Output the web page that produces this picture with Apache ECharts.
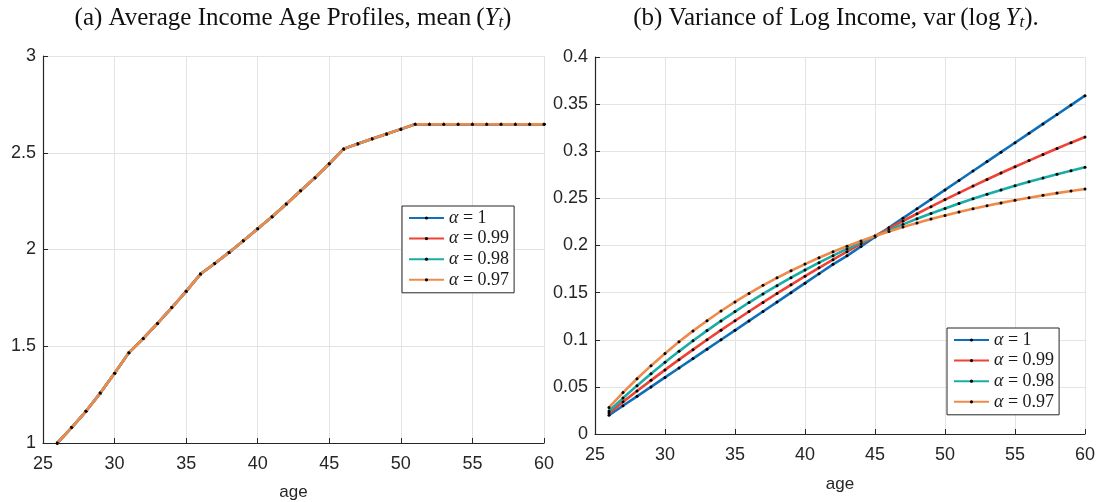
<!DOCTYPE html>
<html><head><meta charset="utf-8">
<script src="https://cdn.jsdelivr.net/npm/echarts@6/dist/echarts.min.js"></script>
<style>html,body{margin:0;padding:0;background:#fff}#c{width:1096px;height:502px}</style>
</head><body><div id="c"></div>
<script>
const ages = [26,27,28,29,30,31,32,33,34,35,36,37,38,39,40,41,42,43,44,45,46,47,48,49,50,51,52,53,54,55,56,57,58,59,60];
const meanIncome = [1.000,1.080,1.164,1.258,1.360,1.467,1.540,1.618,1.700,1.784,1.873,1.928,1.985,2.045,2.107,2.169,2.235,2.304,2.371,2.443,2.520,2.546,2.572,2.597,2.622,2.647,2.647,2.647,2.647,2.647,2.647,2.647,2.647,2.647,2.647];
const varA100 = [0.020,0.030,0.040,0.050,0.060,0.070,0.080,0.090,0.100,0.110,0.120,0.130,0.140,0.150,0.160,0.170,0.180,0.189,0.199,0.209,0.219,0.229,0.239,0.249,0.259,0.269,0.279,0.289,0.299,0.309,0.319,0.329,0.339,0.349,0.359];
const varA099 = [0.0223,0.0341,0.0456,0.0569,0.0680,0.0789,0.0895,0.1000,0.1102,0.1202,0.1300,0.1396,0.1491,0.1583,0.1674,0.1763,0.1850,0.1935,0.2019,0.2101,0.2181,0.2260,0.2337,0.2412,0.2487,0.2559,0.2630,0.2700,0.2769,0.2836,0.2901,0.2966,0.3029,0.3091,0.3151];
const varA098 = [0.0244,0.0381,0.0513,0.0639,0.0761,0.0877,0.0989,0.1097,0.1200,0.1299,0.1395,0.1486,0.1574,0.1659,0.1740,0.1818,0.1892,0.1964,0.2033,0.2099,0.2163,0.2224,0.2283,0.2339,0.2393,0.2445,0.2495,0.2543,0.2589,0.2634,0.2676,0.2717,0.2756,0.2794,0.2830];
const varA097 = [0.0282,0.0439,0.0586,0.0725,0.0855,0.0978,0.1094,0.1202,0.1305,0.1401,0.1492,0.1577,0.1657,0.1732,0.1803,0.1870,0.1933,0.1992,0.2048,0.2100,0.2149,0.2196,0.2239,0.2280,0.2319,0.2355,0.2389,0.2422,0.2452,0.2480,0.2507,0.2532,0.2556,0.2578,0.2599];
const seriesNames = ['α = 1','α = 0.99','α = 0.98','α = 0.97'];
const alphaLabels = ['1','0.99','0.98','0.97'];
const colors = ['#0F6FB8','#EE4234','#1AADA6','#F08A4A'];

const sans = 'Liberation Sans, Arial, sans-serif';
const serif = 'Liberation Serif, DejaVu Serif, serif';
const pair = arr => ages.map((a,i)=>[a,arr[i]]);
const leftData = [meanIncome, meanIncome, meanIncome, meanIncome];
const rightData = [varA100, varA099, varA098, varA097];

function xAxis(gi){
  return {type:'value', gridIndex:gi, min:25, max:60, interval:5,
    name:'age', nameLocation:'middle', nameGap:gi===0?41:42,
    nameTextStyle:{fontFamily:sans, fontSize:17, color:'#262626'},
    axisLine:{show:true, lineStyle:{color:'#262626', width:1.2}},
    axisTick:{show:true, inside:true, length:5, lineStyle:{color:'#262626'}},
    axisLabel:{fontFamily:sans, fontSize:18, color:'#262626', margin:12},
    splitLine:{show:true, lineStyle:{color:'#e3e3e3', width:1}}};
}
function yAxis(gi, mn, mx, iv){
  return {type:'value', gridIndex:gi, min:mn, max:mx, interval:iv,
    axisLine:{show:true, onZero:false, lineStyle:{color:'#262626', width:1.2}},
    axisTick:{show:true, inside:true, length:5, lineStyle:{color:'#262626'}},
    axisLabel:{fontFamily:sans, fontSize:18, color:'#262626', margin:7},
    splitLine:{show:true, lineStyle:{color:'#e3e3e3', width:1}}};
}
const series = [];
seriesNames.forEach((n,i)=>{
  series.push({name:n, type:'line', xAxisIndex:0, yAxisIndex:0, data:pair(leftData[i]),
    symbol:'circle', symbolSize:3, showSymbol:true, itemStyle:{color:'#000'},
    lineStyle:{color:colors[i], width:2.6}, animation:false, z:2+i});
  series.push({name:n, type:'line', xAxisIndex:1, yAxisIndex:1, data:pair(rightData[i]),
    symbol:'circle', symbolSize:3, showSymbol:true, itemStyle:{color:'#000'},
    lineStyle:{color:colors[i], width:2.6}, animation:false, z:2+i});
});
const legendCommon = {orient:'vertical', data:seriesNames, itemWidth:35, itemHeight:4, itemGap:2.6,
  backgroundColor:'#fff', borderColor:'#262626', borderWidth:1, borderRadius:0,
  selectedMode:false,
  formatter: name => '{a|α}{b| = ' + alphaLabels[seriesNames.indexOf(name)] + '}',
  textStyle:{fontFamily:serif, fontSize:18, color:'#1a1a1a', lineHeight:18,
    rich:{a:{fontFamily:serif, fontStyle:'italic', fontSize:18, color:'#1a1a1a', lineHeight:18},
          b:{fontFamily:serif, fontSize:18, color:'#1a1a1a', lineHeight:18}}}};

const titleStyle = {fontFamily:serif, fontSize:25, fontWeight:'normal', color:'#111',
  rich:{y:{fontFamily:serif, fontStyle:'italic', fontSize:25, color:'#111'},
        s:{fontFamily:serif, fontStyle:'italic', fontSize:17, color:'#111', verticalAlign:'bottom', padding:[9,0,0,0]}}};

const chart = echarts.init(document.getElementById('c'), null, {renderer:'canvas'});
chart.setOption({
  animation:false,
  backgroundColor:'#fff',
  title:[
    {text:'(a) Average Income Age Profiles, mean\u2009({y|Y}{s|t})', left:288, top:0, textAlign:'center', textStyle:titleStyle},
    {text:'(b) Variance of Log Income, var\u2009(log\u2009{y|Y}{s|t}).', left:831, top:0, textAlign:'center', textStyle:titleStyle}
  ],
  grid:[
    {left:43, right:1096-544, top:56, bottom:502-443, containLabel:false, outerBoundsMode:'none'},
    {left:595, right:1096-1085, top:57, bottom:502-434, containLabel:false, outerBoundsMode:'none'}
  ],
  xAxis:[xAxis(0), xAxis(1)],
  yAxis:[yAxis(0,1,3,0.5), yAxis(1,0,0.4,0.05)],
  legend:[
    Object.assign({}, legendCommon, {left:402, top:206, padding:[3,5,4,6]}),
    Object.assign({}, legendCommon, {left:947, top:328, padding:[3,5,4,6]})
  ],
  series:series
});
</script></body></html>
